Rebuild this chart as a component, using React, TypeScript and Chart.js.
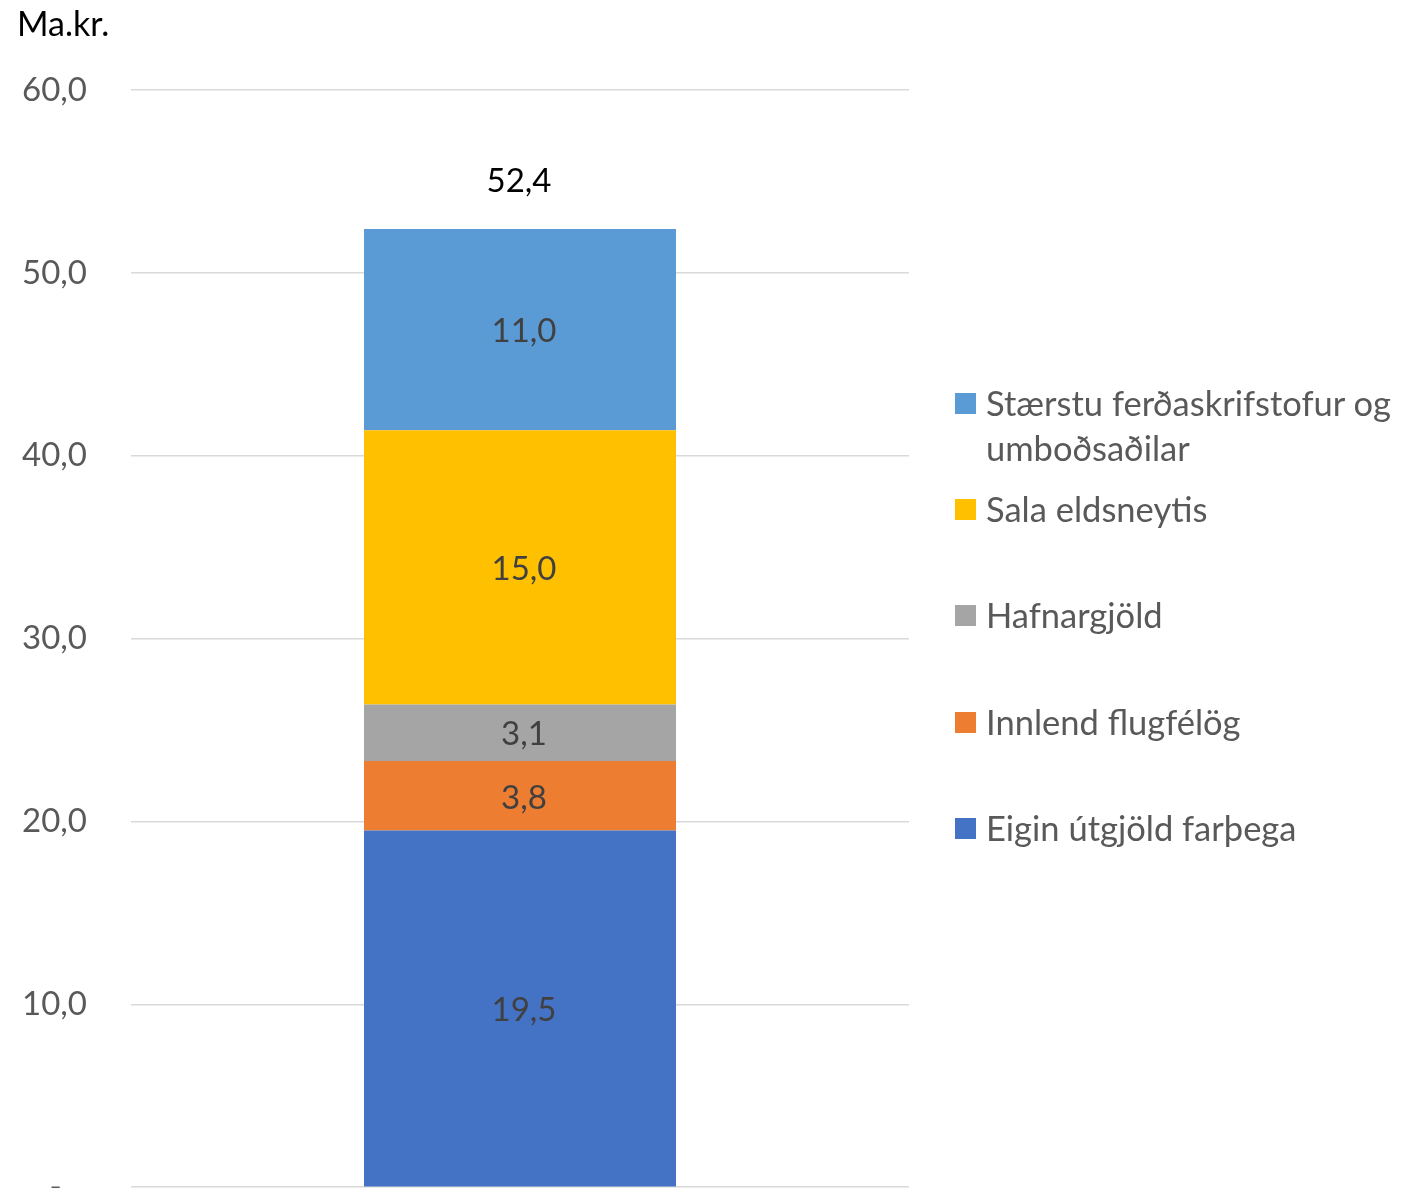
import React, { useEffect, useRef } from "react";
import { Chart, registerables } from "chart.js";

Chart.register(...registerables);

const categories = [""];
const seriesNames = [
  "Eigin útgjöld farþega",
  "Innlend flugfélög",
  "Hafnargjöld",
  "Sala eldsneytis",
  "Stærstu ferðaskrifstofur og umboðsaðilar",
];
const seriesValues = [19.5, 3.8, 3.1, 15.0, 11.0];
const seriesColors = ["#4472C4", "#ED7D31", "#A5A5A5", "#FFC000", "#5B9BD5"];
const totalLabel = "52,4";
const yTicks = [0, 10, 20, 30, 40, 50, 60];

const FONT = "Lato, 'Open Sans', sans-serif";

const fmt = (v: number) => v.toFixed(1).replace(".", ",");

const labelPlugin = {
  id: "segLabels",
  afterDatasetsDraw(chart: any) {
    const ctx = chart.ctx;
    ctx.save();
    ctx.font = `33px ${FONT}`;
    ctx.textAlign = "center";
    ctx.textBaseline = "middle";
    let topY = Infinity;
    let cx = 0;
    chart.data.datasets.forEach((ds: any, i: number) => {
      const meta = chart.getDatasetMeta(i);
      meta.data.forEach((el: any, j: number) => {
        const { x, y, base } = el.getProps(["x", "y", "base"], true);
        ctx.fillStyle = "#404040";
        ctx.fillText(fmt(ds.data[j]), x + 4, (y + base) / 2 + 2);
        if (y < topY) topY = y;
        cx = x;
      });
    });
    ctx.fillStyle = "#000000";
    ctx.fillText(totalLabel, cx - 1, topY - 48);
    ctx.restore();
  },
};

const legendRows = [
  { idx: 4, top: 380 },
  { idx: 3, top: 486 },
  { idx: 2, top: 592 },
  { idx: 1, top: 699 },
  { idx: 0, top: 805 },
];

export default function App() {
  const ref = useRef<HTMLCanvasElement>(null);
  useEffect(() => {
    document.body.style.overflow = "hidden";
    const chart = new Chart(ref.current!, {
      type: "bar",
      data: {
        labels: categories,
        datasets: seriesNames.map((n, i) => ({
          label: n,
          data: [seriesValues[i]],
          backgroundColor: seriesColors[i],
          borderWidth: 0,
          barPercentage: 1,
          categoryPercentage: 0.401,
        })),
      },
      options: {
        animation: false,
        responsive: false,
        devicePixelRatio: 1,
        layout: { padding: { top: 90, bottom: 22, left: 0, right: 508 } },
        plugins: {
          legend: { display: false },
          tooltip: { enabled: false },
        },
        scales: {
          x: { stacked: true, display: false },
          y: {
            stacked: true,
            min: 0,
            max: 60,
            afterBuildTicks: (s: any) => {
              s.ticks = yTicks.map((v) => ({ value: v }));
            },
            afterFit: (s: any) => {
              s.width = 131;
            },
            border: { display: false },
            grid: { color: "#D9D9D9", lineWidth: 1.5, drawTicks: false },
            ticks: {
              padding: 44,
              color: "#595959",
              font: { family: FONT, size: 33 },
              callback: (v: any) => (Number(v) === 0 ? "-   " : fmt(Number(v))),
            },
          },
        },
      },
      plugins: [labelPlugin],
    });
    return () => chart.destroy();
  }, []);

  return (
    <div
      style={{
        position: "fixed",
        left: 0,
        top: 0,
        width: 1417,
        height: 1188,
        overflow: "hidden",
        background: "#fff",
        fontFamily: FONT,
      }}
    >
      <canvas
        ref={ref}
        width={1417}
        height={1251}
        style={{ position: "absolute", left: 0, top: 0, width: 1417, height: 1251 }}
      />
      <div
        style={{
          position: "absolute",
          left: 17,
          top: 0,
          fontSize: 34,
          lineHeight: "45px",
          color: "#000",
        }}
      >
        Ma.kr.
      </div>
      {legendRows.map((r) => (
        <div
          key={r.idx}
          style={{
            position: "absolute",
            left: 955,
            top: r.top,
            width: 450,
            fontSize: 34.5,
            lineHeight: "45px",
            color: "#595959",
          }}
        >
          <span
            style={{
              position: "absolute",
              left: 0,
              top: 13,
              width: 21,
              height: 21,
              background: seriesColors[r.idx],
            }}
          />
          <div style={{ marginLeft: 31 }}>{seriesNames[r.idx]}</div>
        </div>
      ))}
    </div>
  );
}
